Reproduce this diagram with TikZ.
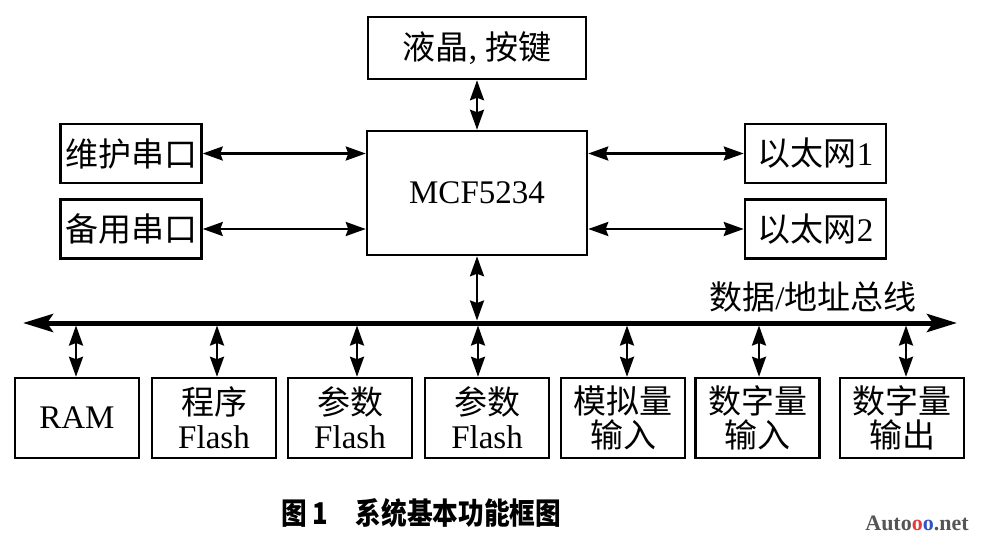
\documentclass[tikz,border=0pt]{standalone}
\usepackage{fontspec}
\setmainfont{Liberation Serif}
\newfontfamily\cjk{Noto Sans CJK SC}
\usetikzlibrary{arrows.meta}
\definecolor{wmgray}{RGB}{85,85,85}
\definecolor{wmred}{RGB}{225,60,60}
\definecolor{wmblue}{RGB}{50,80,200}
\tikzset{
  box/.style={draw, line width=2.5pt, inner sep=0pt, align=center,
    font=\fontsize{33}{34}\selectfont},
  sidebox/.style={box, minimum width=141pt, minimum height=59pt},
  botbox/.style={box, minimum width=124pt, minimum height=80pt},
  conn/.style={line width=2.5pt,
    {Stealth[length=20pt,width=14pt,inset=2.5pt]}-{Stealth[length=20pt,width=14pt,inset=2.5pt]}},
  busline/.style={line width=5pt,
    {Stealth[length=30pt,width=18pt,inset=6pt]}-{Stealth[length=30pt,width=18pt,inset=6pt]}}
}
\begin{document}
\begin{tikzpicture}[x=1pt,y=-1pt]
\useasboundingbox (0,0) rectangle (982,549);
% top and CPU
\node[box, minimum width=218pt, minimum height=62pt] (lcd) at (477,48) {{\cjk 液晶}, {\cjk 按键}};
\node[box, minimum width=220pt, minimum height=124pt] (mcf) at (477,193) {MCF5234};
% side boxes
\node[sidebox] (wh) at (131,153.5) {\cjk 维护串口};
\node[sidebox] (by) at (131,229) {\cjk 备用串口};
\node[sidebox] (e1) at (815.5,153.5) {{\cjk 以太网}1};
\node[sidebox] (e2) at (815.5,229) {{\cjk 以太网}2};
% bus
\coordinate (busL) at (23,323);
\coordinate (busR) at (957,323);
\coordinate (busT) at (0,320.5);
\coordinate (busB) at (0,325.5);
\draw[busline] (busL) -- (busR);
\node[font=\fontsize{33}{34}\selectfont] (buslbl) at (813,297) {{\cjk 数据}/{\cjk 地址总线}};
% bottom boxes
\node[botbox] (ram) at (77,418) {RAM};
\node[botbox] (pf) at (214,418) {{\cjk 程序}\\Flash};
\node[botbox] (cf1) at (350,418) {{\cjk 参数}\\Flash};
\node[botbox] (cf2) at (487,418) {{\cjk 参数}\\Flash};
\node[botbox] (ai) at (623,418) {\cjk 模拟量\\\cjk 输入};
\node[botbox] (di) at (757.5,418) {\cjk 数字量\\\cjk 输入};
\node[botbox] (do) at (902,418) {\cjk 数字量\\\cjk 输出};
% connectors
\draw[conn] (lcd.south) -- (lcd.south |- mcf.north);
\draw[conn] (wh.east) -- (wh.east -| mcf.west);
\draw[conn] (by.east) -- (by.east -| mcf.west);
\draw[conn] (e1.west -| mcf.east) -- (e1.west);
\draw[conn] (e2.west -| mcf.east) -- (e2.west);
\draw[conn] (mcf.south) -- (mcf.south |- busT);
\coordinate (a1) at (76,378);
\coordinate (a2) at (217,378);
\coordinate (a3) at (357,378);
\coordinate (a4) at (478,378);
\coordinate (a5) at (627,378);
\coordinate (a6) at (759,378);
\coordinate (a7) at (906,378);
\draw[conn] (a1 |- busB) -- (a1 |- ram.north);
\draw[conn] (a2 |- busB) -- (a2 |- pf.north);
\draw[conn] (a3 |- busB) -- (a3 |- cf1.north);
\draw[conn] (a4 |- busB) -- (a4 |- cf2.north);
\draw[conn] (a5 |- busB) -- (a5 |- ai.north);
\draw[conn] (a6 |- busB) -- (a6 |- di.north);
\draw[conn] (a7 |- busB) -- (a7 |- do.north);
% caption
\node[anchor=west, inner sep=0pt, font=\fontsize{30}{30}\selectfont\cjk\bfseries] (cap) at (281,513)
  {\scalebox{0.855}[1]{图\hspace{7pt}1\hspace{32pt}系统基本功能框图}};
% watermark
\node[inner sep=0pt, font=\fontsize{22}{22}\selectfont\bfseries] (wm) at (917,523)
  {\textcolor{wmgray}{Auto}\textcolor{wmred}{o}\textcolor{wmblue}{o}\textcolor{wmgray}{.net}};
\end{tikzpicture}
\end{document}
